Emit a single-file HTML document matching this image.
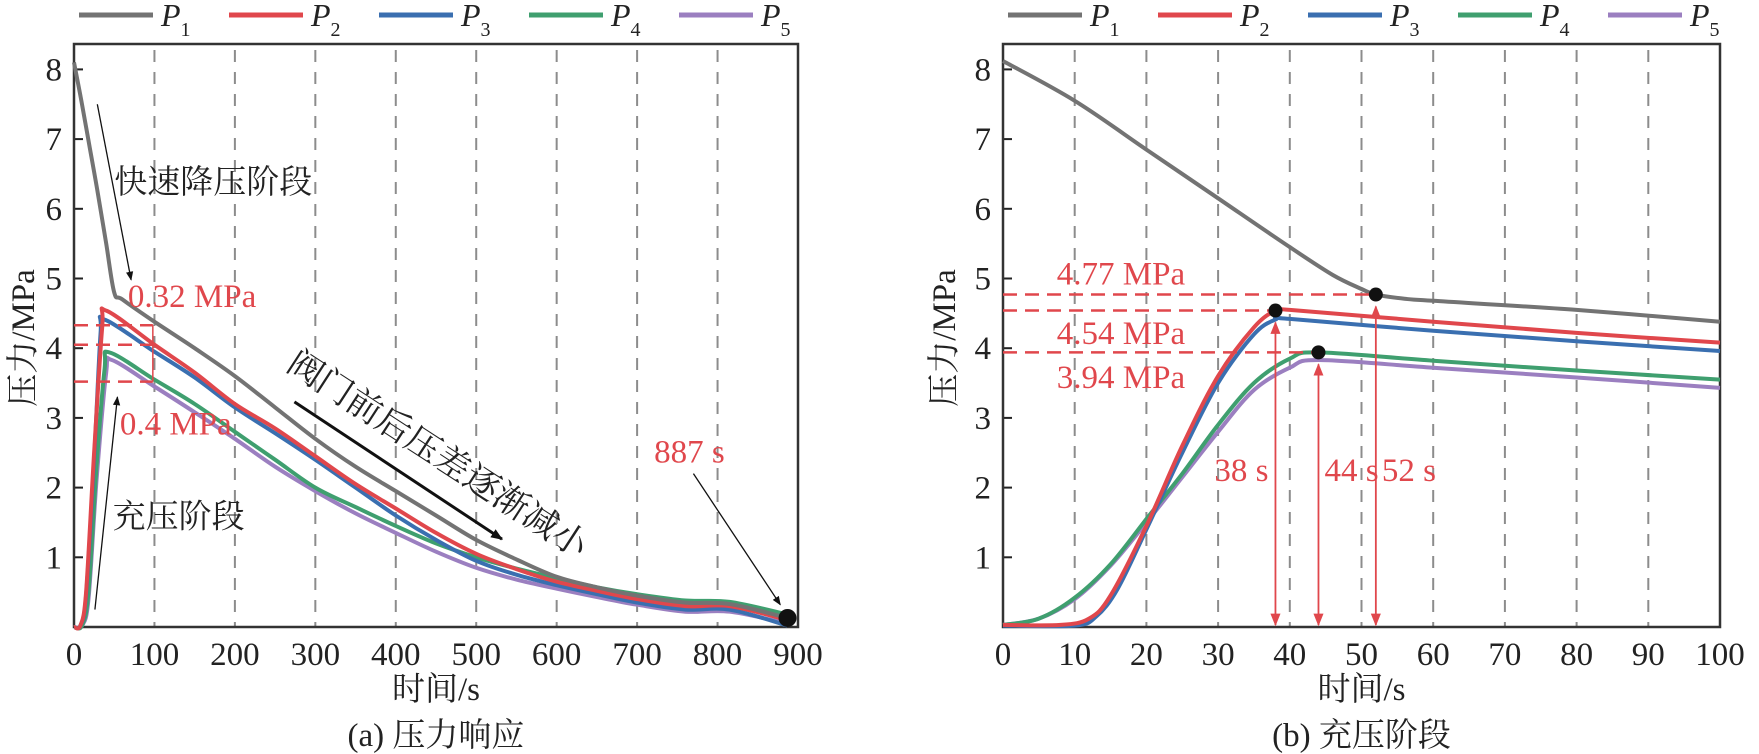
<!DOCTYPE html>
<html><head><meta charset="utf-8"><style>
html,body{margin:0;padding:0;background:#fff}
svg{display:block;font-family:"Liberation Serif","Noto Serif CJK SC","Noto Sans CJK SC",serif}
</style></head><body>
<svg id="fig" width="1759" height="754" viewBox="0 0 1759 754" xmlns="http://www.w3.org/2000/svg"></svg>
<script>
// ---------- data ----------
const seriesNames = ["P1","P2","P3","P4","P5"];
const seriesColors = ["#737373","#e0474c","#3a6fb0","#3f9f6f","#9b7fc0"];
const leftTicksX = [0,100,200,300,400,500,600,700,800,900];
const rightTicksX = [0,10,20,30,40,50,60,70,80,90,100];
const ticksY = [1,2,3,4,5,6,7,8];
// left chart (time s, pressure MPa)
const L_P1_t = [0,10,20,30,40,50,60,100,150,200,250,300,350,400,450,500,550,600,650,700,760,815,887];
const L_P1_v = [8.1,7.5,6.85,6.2,5.5,4.8,4.7,4.38,4.0,3.6,3.15,2.7,2.3,1.95,1.6,1.25,0.97,0.72,0.57,0.45,0.35,0.33,0.13];
const L_P2_t = [0,8,15,25,35,40,100,150,200,250,300,350,400,450,500,550,600,650,700,760,815,887];
const L_P2_v = [0,0.02,0.5,2.5,4.3,4.54,4.05,3.65,3.2,2.85,2.45,2.05,1.7,1.35,1.05,0.83,0.65,0.52,0.4,0.3,0.3,0.1];
const L_P3_t = [0,8,15,25,33,38,100,150,200,250,300,350,400,450,500,550,600,650,700,760,815,887];
const L_P3_v = [0,0.02,0.45,2.4,4.2,4.41,3.95,3.58,3.15,2.78,2.4,2.0,1.6,1.25,0.95,0.75,0.6,0.47,0.35,0.25,0.25,0.02];
const L_P4_t = [0,10,18,28,38,44,100,150,200,250,300,350,400,450,500,550,600,650,700,760,815,887];
const L_P4_v = [0,0.02,0.5,2.3,3.7,3.94,3.55,3.2,2.8,2.4,2.0,1.72,1.45,1.2,1.0,0.84,0.7,0.57,0.47,0.38,0.36,0.18];
const L_P5_t = [0,10,18,28,40,47,100,150,200,250,300,350,400,450,500,550,600,650,700,760,815,887];
const L_P5_v = [0,0.02,0.4,2.1,3.65,3.83,3.45,3.08,2.7,2.3,1.95,1.63,1.35,1.08,0.85,0.68,0.55,0.43,0.32,0.22,0.22,0.05];
// right chart (0-100 s)
const R_P1_t = [0,10,20,30,40,46,50,52,56,60,80,100];
const R_P1_v = [8.12,7.55,6.85,6.15,5.45,5.05,4.85,4.77,4.71,4.68,4.55,4.38];
const R_P2_t = [0,8,12,15,20,25,30,35,38,40,60,80,100];
const R_P2_v = [0.03,0.03,0.12,0.45,1.45,2.6,3.6,4.3,4.54,4.55,4.38,4.22,4.08];
const R_P3_t = [0,10,13,16,20,25,30,35,38,40,60,80,100];
const R_P3_v = [0.02,0.02,0.15,0.55,1.4,2.5,3.5,4.2,4.41,4.42,4.25,4.1,3.96];
const R_P4_t = [0,5,10,15,20,25,30,35,40,44,60,80,100];
const R_P4_v = [0.03,0.12,0.42,0.9,1.55,2.2,2.9,3.5,3.85,3.94,3.82,3.68,3.55];
const R_P5_t = [0,5,10,15,20,25,30,35,40,44,60,80,100];
const R_P5_v = [0.03,0.12,0.4,0.88,1.5,2.15,2.8,3.4,3.72,3.83,3.72,3.58,3.43];
const rightMarkT = [38,44,52];
const rightMarkV = [4.54,3.94,4.77];
const rightMarkLabels = ["4.54 MPa","3.94 MPa","4.77 MPa"];
const leftDiffLevels = [4.33,4.05,3.52];

const NS="http://www.w3.org/2000/svg";
const svg=document.getElementById('fig');
function mk(tag,attrs,parent,text){const e=document.createElementNS(NS,tag);for(const k in attrs)e.setAttribute(k,attrs[k]);if(text!==undefined)e.textContent=text;(parent||svg).appendChild(e);return e;}

const Y0=627, YU=69.7, TOP=44, FS=33;
const CJK='"Liberation Serif","Noto Serif CJK SC","Noto Sans CJK SC",serif';
function sy(v){return Y0-v*YU;}
function pathFrom(ts,vs,sx){
  const p=ts.map((t,i)=>[sx(t),sy(vs[i])]);
  let d="M"+p[0][0].toFixed(1)+","+p[0][1].toFixed(1);
  for(let i=0;i<p.length-1;i++){
    const p0=p[Math.max(0,i-1)],p1=p[i],p2=p[i+1],p3=p[Math.min(p.length-1,i+2)];
    const c1=[p1[0]+(p2[0]-p0[0])/6,p1[1]+(p2[1]-p0[1])/6];
    const c2=[p2[0]-(p3[0]-p1[0])/6,p2[1]-(p3[1]-p1[1])/6];
    d+=" C"+c1[0].toFixed(1)+","+c1[1].toFixed(1)+" "+c2[0].toFixed(1)+","+c2[1].toFixed(1)+" "+p2[0].toFixed(1)+","+p2[1].toFixed(1);
  }
  return d;
}
mk('defs',{}).innerHTML='<marker id="ah" viewBox="0 0 10 10" refX="9" refY="5" markerWidth="7" markerHeight="7" orient="auto-start-reverse"><path d="M0,1 L10,5 L0,9 z" fill="#111"/></marker><marker id="ahb" viewBox="0 0 10 10" refX="9" refY="5" markerWidth="4" markerHeight="4" orient="auto-start-reverse"><path d="M0,1 L10,5 L0,9 z" fill="#111"/></marker><marker id="ahr" viewBox="0 0 10 10" refX="9" refY="5" markerWidth="7" markerHeight="7" orient="auto-start-reverse"><path d="M0,1 L10,5 L0,9 z" fill="#e0474c"/></marker>';

function axes(g,x0,x1,xticks,sx,name){
  xticks.forEach((t,i)=>{ if(i>0&&i<xticks.length-1){
    const l=mk('line',{x1:sx(t),x2:sx(t),y1:TOP+6,y2:Y0,stroke:'#8c8c8c','stroke-width':2,'stroke-dasharray':'12,10'},g);
    
    
  }});
  xticks.forEach(t=>{
    const tx=mk('text',{x:sx(t),y:Y0+38,'font-size':FS,'text-anchor':'middle',fill:'#222'},g,String(t));
    
    
  });
  ticksY.forEach(v=>{
    const tl=mk('line',{x1:x0,x2:x0+9,y1:sy(v),y2:sy(v),stroke:'#222','stroke-width':2},g);
    
    
    const tx=mk('text',{x:x0-12,y:sy(v)+11,'font-size':FS,'text-anchor':'end',fill:'#222'},g,String(v));
    
    
  });
  const fr=mk('rect',{x:x0,y:TOP,width:x1-x0,height:Y0-TOP,fill:'none',stroke:'#333','stroke-width':2.5},g);
  
  
}
function legend(g,x){
  seriesNames.forEach((n,i)=>{
    const lx=x+i*150;
    const ln=mk('line',{x1:lx,x2:lx+74,y1:15,y2:15,stroke:seriesColors[i],'stroke-width':5},g);
    
    
    const t=mk('text',{x:lx+82,y:26,'font-size':32,'font-style':'italic',fill:'#222'},g);
    
    
    t.innerHTML='P<tspan dy="10" font-size="20" font-style="normal">'+n.slice(1)+'</tspan>';
  });
}
function txt(g,x,y,s,opts,name){const t=mk('text',Object.assign({x:x,y:y,'font-size':FS,fill:'#222','font-family':CJK},opts||{}),g,s);return t;}
function arrow(g,t1,v1,t2,v2,sx,w,mark,name,color){const a=mk('line',{x1:sx(t1),y1:sy(v1),x2:sx(t2),y2:sy(v2),stroke:color||'#111','stroke-width':w,'marker-end':'url(#'+mark+')'},g);return a;}

// ---------- LEFT ----------
const gL=mk('g',{});
const LX0=74,LX1=798;
const sxL=t=>LX0+t*(LX1-LX0)/900;
legend(gL,79);
axes(gL,LX0,LX1,leftTicksX,sxL,'left');
const Lt=[L_P1_t,L_P2_t,L_P3_t,L_P4_t,L_P5_t], Lv=[L_P1_v,L_P2_v,L_P3_v,L_P4_v,L_P5_v];
[4,3,2,1,0].forEach(i=>{
  const p=mk('path',{d:pathFrom(Lt[i],Lv[i],sxL),fill:'none',stroke:seriesColors[i],'stroke-width':4,'stroke-linejoin':'round'},gL);
  
  
});
leftDiffLevels.forEach((v,i)=>{
  const l=mk('line',{x1:LX0,x2:sxL(98),y1:sy(v),y2:sy(v),stroke:'#e0474c','stroke-width':2.5,'stroke-dasharray':'14,8'},gL);
  
  
});
const vl=mk('line',{x1:sxL(98),x2:sxL(98),y1:sy(leftDiffLevels[0]),y2:sy(leftDiffLevels[2]),stroke:'#e0474c','stroke-width':1.5},gL);

txt(gL,sxL(67),sy(4.75)+11,'0.32 MPa',{fill:'#e0474c'},'label-0-32-mpa');
txt(gL,sxL(57),sy(2.92)+11,'0.4 MPa',{fill:'#e0474c'},'label-0-4-mpa');
txt(gL,sxL(50),sy(6.4)+12,'快速降压阶段',{},'label-rapid-depressurization');
txt(gL,sxL(48),sy(1.6)+12,'充压阶段',{},'label-pressurization');
txt(gL,sxL(765),sy(2.52)+11,'887 s',{fill:'#e0474c','text-anchor':'middle'},'label-887s');
const rt=txt(gL,0,0,'阀门前后压差逐渐减小',{'font-size':35},'label-pressure-difference-decreasing');
rt.setAttribute('transform','translate('+sxL(262)+','+(sy(3.82)+8)+') rotate(33)');
arrow(gL,29,7.5,71,4.98,sxL,1.3,'ah','arrow-rapid');
arrow(gL,26,0.25,54,3.3,sxL,1.3,'ah','arrow-pressurization');
arrow(gL,274,3.23,532,1.26,sxL,3,'ahb','arrow-difference');
arrow(gL,770,2.2,878,0.32,sxL,1.3,'ah','arrow-887s');
const dotL=mk('circle',{cx:sxL(887),cy:sy(0.13),r:9,fill:'#111'},gL);

txt(gL,(LX0+LX1)/2,700,'时间/s',{'text-anchor':'middle'},'left-x-axis-title');
txt(gL,(LX0+LX1)/2,746,'(a) 压力响应',{'text-anchor':'middle'},'left-caption');
const ytl=txt(gL,0,0,'压力/MPa',{'text-anchor':'middle'},'left-y-axis-title');
ytl.setAttribute('transform','translate(34,338) rotate(-90)');

// ---------- RIGHT ----------
const gR=mk('g',{});
const RX0=1003,RX1=1720;
const sxR=t=>RX0+t*(RX1-RX0)/100;
legend(gR,1008);
axes(gR,RX0,RX1,rightTicksX,sxR,'right');
const Rt=[R_P1_t,R_P2_t,R_P3_t,R_P4_t,R_P5_t], Rv=[R_P1_v,R_P2_v,R_P3_v,R_P4_v,R_P5_v];
[4,3,2,1,0].forEach(i=>{
  const p=mk('path',{d:pathFrom(Rt[i],Rv[i],sxR),fill:'none',stroke:seriesColors[i],'stroke-width':4,'stroke-linejoin':'round'},gR);
  
  
});
const labOff=[-0.32,-0.35,0.3];
rightMarkT.forEach((t,i)=>{
  const v=rightMarkV[i];
  const h=mk('line',{x1:RX0,x2:sxR(t),y1:sy(v),y2:sy(v),stroke:'#e0474c','stroke-width':2.5,'stroke-dasharray':'14,8'},gR);
  
  
  const a=mk('line',{x1:sxR(t),x2:sxR(t),y1:sy(v)+12,y2:Y0-2,stroke:'#e0474c','stroke-width':1.8,'marker-start':'url(#ahr)','marker-end':'url(#ahr)'},gR);
  
  
  const d=mk('circle',{cx:sxR(t),cy:sy(v),r:7,fill:'#111'},gR);
  
  
  txt(gR,sxR(7.5),sy(v+labOff[i])+11,rightMarkLabels[i],{fill:'#e0474c'},'right-level-label-'+t);
  txt(gR,sxR(t)+(i===0?-7:6),sy(2.25)+11,t+' s',{fill:'#e0474c','text-anchor':i===0?'end':'start'},'right-time-label-'+t);
});
txt(gR,(RX0+RX1)/2,700,'时间/s',{'text-anchor':'middle'},'right-x-axis-title');
txt(gR,(RX0+RX1)/2,746,'(b) 充压阶段',{'text-anchor':'middle'},'right-caption');
const ytr=txt(gR,0,0,'压力/MPa',{'text-anchor':'middle'},'right-y-axis-title');
ytr.setAttribute('transform','translate(955,338) rotate(-90)');
</script>
</body></html>
